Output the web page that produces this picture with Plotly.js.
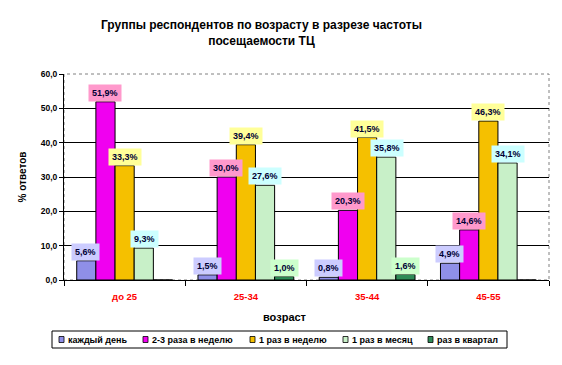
<!DOCTYPE html>
<html><head><meta charset="utf-8">
<script src="https://cdn.plot.ly/plotly-3.0.1.min.js"></script>
<style>body{margin:0;background:#fff}#c{width:562px;height:365px}</style>
</head><body><div id="c"></div>
<script>
const categories = ["до 25", "25-34", "35-44", "45-55"];
const seriesNames = ["каждый день", "2-3 раза в неделю", "1 раз в неделю", "1 раз в месяц", "раз в квартал"];
const daily = [5.6, 1.5, 0.8, 4.9];
const twoThreeWeek = [51.9, 30.0, 20.3, 14.6];
const onceWeek = [33.3, 39.4, 41.5, 46.3];
const onceMonth = [9.3, 27.6, 35.8, 34.1];
const onceQuarter = [0, 1.0, 1.6, 0];
const yTicks = [0, 10, 20, 30, 40, 50, 60];

const allSeries = [daily, twoThreeWeek, onceWeek, onceMonth, onceQuarter];
const barColors = ["#8f8fe8", "#f000f0", "#f5c000", "#c8f0c8", "#2e8b57"];
const labelBg = ["#ccccff", "#ff99cc", "#ffff99", "#ccffff", "#ccffcc"];
const F = "Arial, 'Liberation Sans', sans-serif";

const traces = allSeries.map((vals, i) => ({
  type: "bar", name: seriesNames[i], x: categories, y: vals,
  marker: {color: barColors[i], line: {color: "#000", width: 1}},
  hoverinfo: "none", showlegend: false
}));

// plot area in pixels (for converting the hand-drawn legend layout)
const L = 64, R = 13, T = 74, B = 85, W = 562, H = 365;
const pw = W - L - R, ph = H - T - B;
const px2x = p => (p - L) / pw;
const py2y = p => (H - B - p) / ph;

const barPx = 19.4;
const annotations = [];
allSeries.forEach((vals, i) => {
  vals.forEach((v, j) => {
    if (v > 0) annotations.push({
      x: categories[j], y: v, xref: "x", yref: "y",
      text: "<b>" + v.toFixed(1).replace(".", ",") + "%</b>",
      showarrow: false, yanchor: "bottom", xanchor: "center",
      xshift: (i - 2) * barPx, bgcolor: labelBg[i], borderpad: 3,
      font: {family: F, size: 9, color: "#000033"}
    });
  });
});

annotations.push({
  text: "<b>возраст</b>", xref: "paper", yref: "paper", x: px2x(285), y: py2y(317),
  xanchor: "center", yanchor: "middle", showarrow: false,
  font: {family: F, size: 11, color: "#000"}
});

// legend (built from seriesNames / barColors)
const legX = [59, 143, 250, 343, 428];
const legY = 339.5;
const shapes = [
  {type: "rect", xref: "paper", yref: "paper", x0: 0, x1: 1, y0: 0, y1: 1,
   line: {color: "#808080", width: 1, dash: "dot"}, layer: "below"},
  {type: "rect", xref: "paper", yref: "paper", x0: px2x(52), x1: px2x(507),
   y0: py2y(331), y1: py2y(348), line: {color: "#000", width: 1}, fillcolor: "rgba(0,0,0,0)"}
];
seriesNames.forEach((n, i) => {
  shapes.push({type: "rect", xref: "paper", yref: "paper",
    x0: px2x(legX[i]), x1: px2x(legX[i] + 5), y0: py2y(legY - 3), y1: py2y(legY + 3),
    fillcolor: barColors[i], line: {color: "#000", width: 0.8}});
  annotations.push({text: "<b>" + n + "</b>", xref: "paper", yref: "paper",
    x: px2x(legX[i] + 7), y: py2y(legY), xanchor: "left", yanchor: "middle",
    showarrow: false, font: {family: F, size: 9, color: "#000"}});
});

annotations.push({
  text: "<b>Группы респондентов по возрасту в разрезе частоты<br>посещаемости ТЦ</b>",
  xref: "paper", yref: "paper", x: px2x(261), y: py2y(33),
  xanchor: "center", yanchor: "middle", showarrow: false, align: "center",
  font: {family: F, size: 12, color: "#000"}
});

const layout = {
  width: W, height: H,
  margin: {l: L, r: R, t: T, b: B},
  paper_bgcolor: "#fff", plot_bgcolor: "#fff",
  separators: ", ",
  barmode: "group", bargap: 0.21, bargroupgap: 0,
  xaxis: {type: "category", showline: true, linecolor: "#000", linewidth: 1,
    ticks: "outside", tickson: "boundaries", ticklen: 5, tickcolor: "#000",
    ticklabelstandoff: 8,
    tickfont: {family: F, size: 9.5, color: "#ff0000", weight: "bold"},
    showgrid: false, zeroline: false, fixedrange: true},
  yaxis: {range: [0, 60], tickvals: yTicks, tickformat: ".1f",
    showline: true, linecolor: "#000", linewidth: 1,
    ticks: "outside", ticklen: 4, tickcolor: "#000",
    showgrid: true, gridcolor: "#000", gridwidth: 1, zeroline: false,
    tickfont: {family: F, size: 8.5, color: "#000", weight: "bold"},
    title: {text: "<b>% ответов</b>", font: {family: F, size: 10, color: "#000"}, standoff: 12},
    fixedrange: true},
  showlegend: false,
  shapes: shapes,
  annotations: annotations
};

Plotly.newPlot("c", traces, layout, {displayModeBar: false, staticPlot: true});
</script></body></html>
